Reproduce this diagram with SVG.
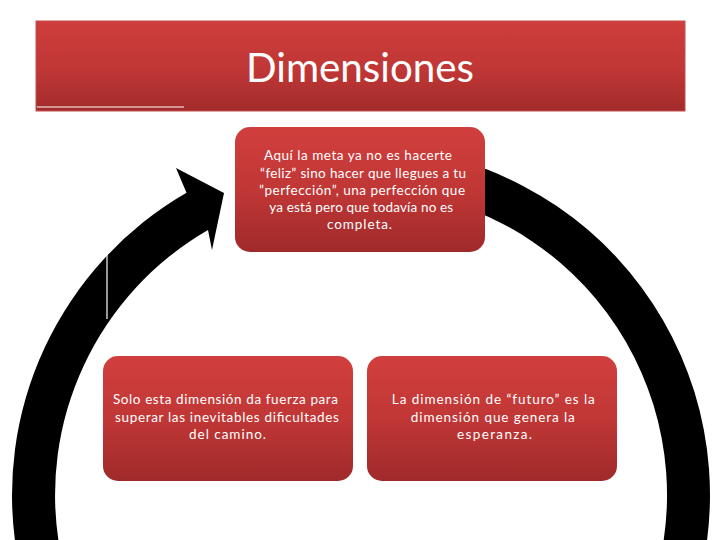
<svg xmlns="http://www.w3.org/2000/svg" width="720" height="540" viewBox="0 0 720 540">
<defs>
<linearGradient id="gTitle" x1="0" y1="0" x2="0" y2="1">
<stop offset="0" stop-color="#ce3d3b"/>
<stop offset="0.55" stop-color="#bf3736"/>
<stop offset="1" stop-color="#a22b2b"/>
</linearGradient>
<linearGradient id="gBox" x1="0" y1="0" x2="0" y2="1">
<stop offset="0" stop-color="#d13f3d"/>
<stop offset="0.5" stop-color="#c03736"/>
<stop offset="1" stop-color="#a02a2a"/>
</linearGradient>
<style>
.box{fill:url(#gBox);}
.txt{font-family:Lato,"Open Sans",sans-serif;font-size:13.5px;fill:#ffffff;}
.ttl{font-family:Lato,"Open Sans",sans-serif;font-size:40px;fill:#ffffff;}
.arc{fill:#000000;}
</style>
</defs>
<rect width="720" height="540" fill="#ffffff"/>
<g id="title">
<rect x="36" y="21" width="649" height="90" fill="url(#gTitle)" stroke="#c4504e" stroke-width="1"/>
<line x1="37" y1="107" x2="184" y2="107" stroke="#ffffff" stroke-width="1.2"/>
<text class="ttl" x="360" y="82" text-anchor="middle" textLength="228" lengthAdjust="spacingAndGlyphs">Dimensiones</text>
</g>
<g id="connectors">
<path class="arc" d="M 17.3 555.6 A 349 349 0 0 1 186.5 192.8 L 176 168 L 224 193 L 212 250 L 208 230 A 306 306 0 0 0 59.7 548.1 Z"/>
<path class="arc" d="M 373.2 146.2 A 349 349 0 0 1 698.1 585.3 L 656.6 574.2 A 306 306 0 0 0 371.7 189.2 Z"/>
<line x1="107" y1="252" x2="107" y2="319" stroke="#ffffff" stroke-width="1.2"/>
</g>
<g id="node-top">
<rect class="box" x="235" y="127" width="250" height="125" rx="15" ry="15"/>
<text class="txt" text-anchor="middle">
<tspan x="360" y="160" textLength="188" lengthAdjust="spacing">Aquí la meta ya no es hacerte</tspan>
<tspan x="365" y="177.5" textLength="206" lengthAdjust="spacing">“feliz” sino hacer que llegues a tu</tspan>
<tspan x="364" y="195" textLength="206" lengthAdjust="spacing">”perfección”, una perfección que</tspan>
<tspan x="363" y="212" textLength="184" lengthAdjust="spacing">ya está pero que todavía no es</tspan>
<tspan x="359.5" y="229" textLength="65" lengthAdjust="spacing">completa.</tspan>
</text>
</g>
<g id="node-left">
<rect class="box" x="103" y="356" width="250" height="125" rx="15" ry="15"/>
<text class="txt" text-anchor="middle">
<tspan x="227.5" y="404" textLength="225" lengthAdjust="spacing">Solo esta dimensión da fuerza para</tspan>
<tspan x="229" y="421.5" textLength="224" lengthAdjust="spacing">superar las inevitables dificultades</tspan>
<tspan x="227.5" y="439" textLength="77" lengthAdjust="spacing">del camino.</tspan>
</text>
</g>
<g id="node-right">
<rect class="box" x="367" y="356" width="250" height="125" rx="15" ry="15"/>
<text class="txt" text-anchor="middle">
<tspan x="495.5" y="404" textLength="203" lengthAdjust="spacing">La dimensión de “futuro” es la</tspan>
<tspan x="495" y="421.5" textLength="164" lengthAdjust="spacing">dimensión que genera la</tspan>
<tspan x="494.5" y="439" textLength="75" lengthAdjust="spacing">esperanza.</tspan>
</text>
</g>
</svg>
